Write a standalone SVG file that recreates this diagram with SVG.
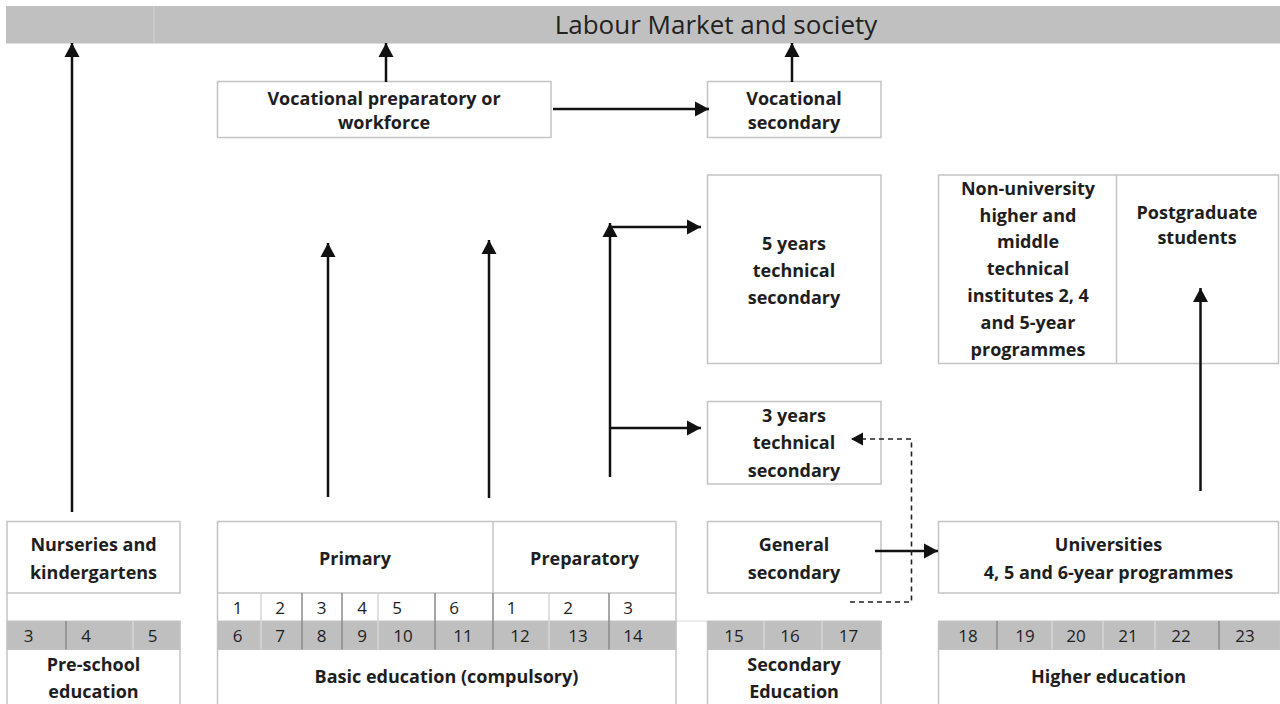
<svg xmlns="http://www.w3.org/2000/svg" width="1280" height="704" viewBox="0 0 1280 704">
<style>
.box{fill:#fff;stroke:#c4c4c4;stroke-width:1.5}
.grey{fill:#bfbfbf;stroke:#c4c4c4;stroke-width:1}
.t{font-family:"Open Sans","Liberation Sans",sans-serif;font-weight:bold;font-size:18px;fill:#1e1e1e;text-anchor:middle}
.n{font-family:"Open Sans","Liberation Sans",sans-serif;font-size:17px;fill:#1e1e1e;text-anchor:middle}
.dl{stroke:#8a8a8a;stroke-width:1.5}
.ll{stroke:#d6d6d6;stroke-width:1.5}
.c{fill:none;stroke:#111;stroke-width:2.5}
.d{fill:none;stroke:#222;stroke-width:1.6;stroke-dasharray:5 4}
</style>
<defs>
<marker id="ah" markerUnits="userSpaceOnUse" markerWidth="15" markerHeight="16" refX="14" refY="8" orient="auto">
<path d="M0,0.5 L14,8 L0,15.5 z" fill="#111"/>
</marker>
<marker id="ahs" markerUnits="userSpaceOnUse" markerWidth="13" markerHeight="14" refX="12" refY="7" orient="auto">
<path d="M0,0.5 L12,7 L0,13.5 z" fill="#111"/>
</marker>
</defs>
<rect width="1280" height="704" fill="#fff"/>

<g id="banner">
<rect x="6" y="6" width="1274" height="37.5" fill="#c0c0c0"/>
<line x1="154" y1="6" x2="154" y2="43.5" stroke="#d2d2d2" stroke-width="1"/>
<text x="716" y="34" font-family="'Open Sans','Liberation Sans',sans-serif" font-size="26" fill="#222" text-anchor="middle">Labour Market and society</text>
</g>

<g id="vocprep">
<rect class="box" x="217.5" y="81.5" width="333.5" height="56"/>
<text class="t" x="384" y="104.5">Vocational preparatory or</text>
<text class="t" x="384" y="128.5">workforce</text>
</g>

<g id="vocsec">
<rect class="box" x="707.5" y="81.5" width="173.5" height="56"/>
<text class="t" x="794" y="104.5">Vocational</text>
<text class="t" x="794" y="128.5">secondary</text>
</g>

<g id="tech5">
<rect class="box" x="707.5" y="175" width="173.5" height="188.5"/>
<text class="t" x="794" y="249.5">5 years</text>
<text class="t" x="794" y="276.5">technical</text>
<text class="t" x="794" y="303.5">secondary</text>
</g>

<g id="nonuni">
<rect class="box" x="938.5" y="175" width="340" height="188.5"/>
<line x1="1116.5" y1="175" x2="1116.5" y2="363.5" stroke="#c4c4c4" stroke-width="1.5"/>
<text class="t" x="1028" y="194.5">Non-university</text>
<text class="t" x="1028" y="221.5">higher and</text>
<text class="t" x="1028" y="248">middle</text>
<text class="t" x="1028" y="274.5">technical</text>
<text class="t" x="1028" y="301.5">institutes 2, 4</text>
<text class="t" x="1028" y="328.5">and 5-year</text>
<text class="t" x="1028" y="355.5">programmes</text>
</g>

<g id="postgrad">
<text class="t" x="1197" y="219" font-size="16">Postgraduate</text>
<text class="t" x="1197" y="244" font-size="16">students</text>
</g>

<g id="tech3">
<rect class="box" x="707.5" y="401.5" width="173.5" height="82.5"/>
<text class="t" x="794" y="421.5">3 years</text>
<text class="t" x="794" y="449">technical</text>
<text class="t" x="794" y="476.5">secondary</text>
</g>

<g id="preschool">
<rect class="box" x="7" y="521.5" width="173" height="71.5"/>
<text class="t" x="93.5" y="550.5">Nurseries and</text>
<text class="t" x="93.5" y="578.5">kindergartens</text>
<line x1="7" y1="593" x2="7" y2="704" stroke="#c4c4c4" stroke-width="1.5"/>
<line x1="180" y1="621" x2="180" y2="704" stroke="#c4c4c4" stroke-width="1.5"/>
<rect class="grey" x="7" y="621" width="173" height="28.5"/>
<line class="dl" x1="66" y1="621" x2="66" y2="649.5"/>
<line class="ll" x1="133" y1="621" x2="133" y2="649.5"/>
<text class="n" x="28.5" y="641.5">3</text>
<text class="n" x="86" y="641.5">4</text>
<text class="n" x="152.5" y="641.5">5</text>
<text class="t" x="93.5" y="670.5">Pre-school</text>
<text class="t" x="93.5" y="697.5">education</text>
</g>

<g id="basic">
<rect class="box" x="217.5" y="521.5" width="458.5" height="71.5"/>
<line x1="493" y1="521.5" x2="493" y2="593" stroke="#c4c4c4" stroke-width="1.5"/>
<text class="t" x="355" y="564.5">Primary</text>
<text class="t" x="584.5" y="564.5">Preparatory</text>
<line x1="217.5" y1="593" x2="217.5" y2="704" stroke="#c4c4c4" stroke-width="1.5"/>
<line x1="676" y1="593" x2="676" y2="704" stroke="#c4c4c4" stroke-width="1.5"/>
<line x1="676" y1="621" x2="707" y2="621" stroke="#d8d8d8" stroke-width="1"/>
<rect class="grey" x="217.5" y="621" width="458.5" height="28.5"/>
<g>
<line class="ll" x1="261" y1="593" x2="261" y2="649.5"/>
<line class="dl" x1="302" y1="593" x2="302" y2="649.5"/>
<line class="dl" x1="342" y1="593" x2="342" y2="649.5"/>
<line class="ll" x1="378" y1="593" x2="378" y2="649.5"/>
<line class="dl" x1="435" y1="593" x2="435" y2="649.5"/>
<line class="dl" x1="493" y1="593" x2="493" y2="649.5"/>
<line class="ll" x1="549" y1="593" x2="549" y2="649.5"/>
<line class="dl" x1="609" y1="593" x2="609" y2="649.5"/>
</g>
<text class="n" x="237.5" y="613.5">1</text>
<text class="n" x="280" y="613.5">2</text>
<text class="n" x="321.5" y="613.5">3</text>
<text class="n" x="362" y="613.5">4</text>
<text class="n" x="397" y="613.5">5</text>
<text class="n" x="454" y="613.5">6</text>
<text class="n" x="511.5" y="613.5">1</text>
<text class="n" x="568" y="613.5">2</text>
<text class="n" x="628" y="613.5">3</text>
<text class="n" x="237.5" y="641.5">6</text>
<text class="n" x="280" y="641.5">7</text>
<text class="n" x="321.5" y="641.5">8</text>
<text class="n" x="362" y="641.5">9</text>
<text class="n" x="403" y="641.5">10</text>
<text class="n" x="463" y="641.5">11</text>
<text class="n" x="520" y="641.5">12</text>
<text class="n" x="578" y="641.5">13</text>
<text class="n" x="633" y="641.5">14</text>
<text class="t" x="446.5" y="682.5">Basic education (compulsory)</text>
</g>

<g id="secondary">
<rect class="box" x="707.5" y="521.5" width="173.5" height="71.5"/>
<text class="t" x="794" y="550.5">General</text>
<text class="t" x="794" y="578.5">secondary</text>
<line x1="707.5" y1="621" x2="707.5" y2="704" stroke="#c4c4c4" stroke-width="1.5"/>
<line x1="881" y1="621" x2="881" y2="704" stroke="#c4c4c4" stroke-width="1.5"/>
<rect class="grey" x="707.5" y="621" width="173.5" height="28.5"/>
<line class="ll" x1="764" y1="621" x2="764" y2="649.5"/>
<line class="ll" x1="822" y1="621" x2="822" y2="649.5"/>
<text class="n" x="734" y="641.5">15</text>
<text class="n" x="790" y="641.5">16</text>
<text class="n" x="848.5" y="641.5">17</text>
<text class="t" x="794" y="670.5">Secondary</text>
<text class="t" x="794" y="697.5">Education</text>
</g>

<g id="higher">
<rect class="box" x="938.5" y="521.5" width="340" height="71.5"/>
<text class="t" x="1108.5" y="550.5">Universities</text>
<text class="t" x="1108.5" y="578.5">4, 5 and 6-year programmes</text>
<line x1="938.5" y1="621" x2="938.5" y2="704" stroke="#c4c4c4" stroke-width="1.5"/>
<rect class="grey" x="938.5" y="621" width="341.5" height="28.5"/>
<line class="dl" x1="997" y1="621" x2="997" y2="649.5"/>
<line class="ll" x1="1052" y1="621" x2="1052" y2="649.5"/>
<line class="ll" x1="1103" y1="621" x2="1103" y2="649.5"/>
<line class="ll" x1="1155" y1="621" x2="1155" y2="649.5"/>
<line class="dl" x1="1219" y1="621" x2="1219" y2="649.5"/>
<text class="n" x="968" y="641.5">18</text>
<text class="n" x="1025" y="641.5">19</text>
<text class="n" x="1076" y="641.5">20</text>
<text class="n" x="1128" y="641.5">21</text>
<text class="n" x="1181" y="641.5">22</text>
<text class="n" x="1245" y="641.5">23</text>
<text class="t" x="1108.5" y="682.5">Higher education</text>
</g>

<g id="connectors">
<path class="c" d="M72,512 V43" marker-end="url(#ah)"/>
<path class="c" d="M386,82 V43" marker-end="url(#ah)"/>
<path class="c" d="M792,82 V43" marker-end="url(#ah)"/>
<path class="c" d="M553,109 H709" marker-end="url(#ah)"/>
<path class="c" d="M328,497 V243" marker-end="url(#ah)"/>
<path class="c" d="M489,498 V240" marker-end="url(#ah)"/>
<path class="c" d="M610,477 V223" marker-end="url(#ah)"/>
<path class="c" d="M610,227 H701" marker-end="url(#ah)"/>
<path class="c" d="M610,428 H701" marker-end="url(#ah)"/>
<path class="c" d="M1200.5,491 V288" marker-end="url(#ah)"/>
<path class="c" d="M875,551 H938" marker-end="url(#ah)"/>
<path class="d" d="M850,602 H911.5 V439 H851" marker-end="url(#ahs)"/>
</g>
</svg>
